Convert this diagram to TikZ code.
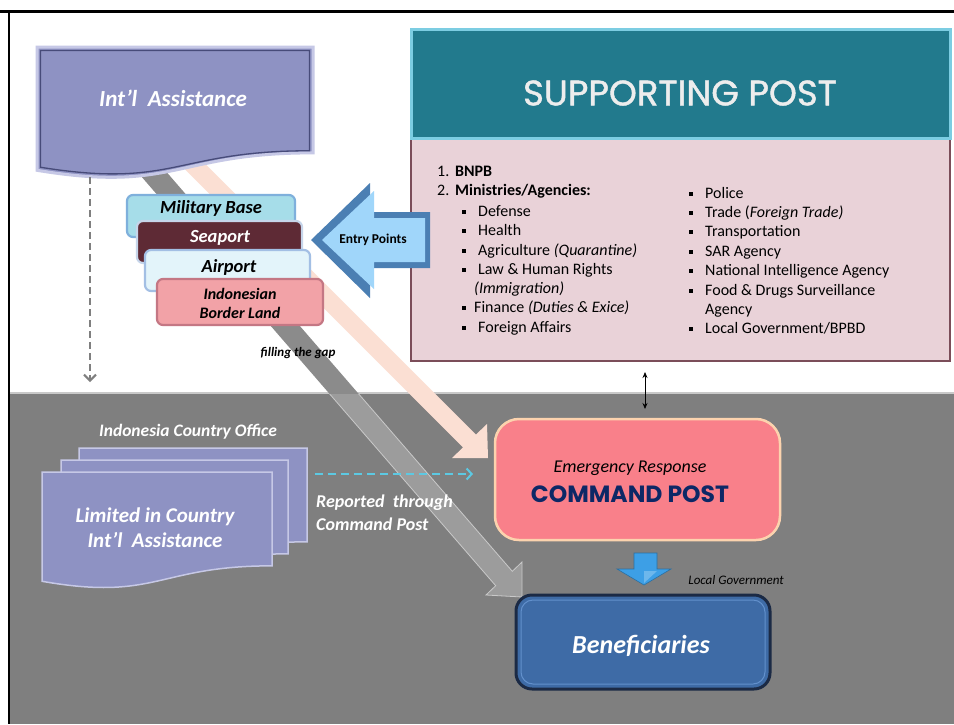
\documentclass[tikz,border=0pt]{standalone}
\usepackage{fontspec}
\setmainfont{Carlito}
\newfontfamily\gothic{Poppins}
\newfontfamily\gothicm[FakeBold=1.2]{Poppins}
\usetikzlibrary{calc,arrows.meta}
\definecolor{bggray}{HTML}{7F7F7F}
\definecolor{teal}{HTML}{227A8D}
\definecolor{tealb}{HTML}{7CCDE2}
\definecolor{pinkbox}{HTML}{E9D2D8}
\definecolor{pinkb}{HTML}{7B4D59}
\definecolor{lav}{HTML}{8E92C3}
\definecolor{lavlight}{HTML}{C6C8E6}
\definecolor{lavdark}{HTML}{474B79}
\definecolor{cmd}{HTML}{F9808A}
\definecolor{cmdb}{HTML}{FCD3AE}
\definecolor{ben}{HTML}{3E6BA6}
\definecolor{benb}{HTML}{1B2A45}
\definecolor{benhl}{HTML}{6290CC}
\definecolor{bluearr}{HTML}{3D9FE6}
\definecolor{cyandash}{HTML}{5CC9E3}
\definecolor{peach}{HTML}{FBDFD3}
\definecolor{milf}{HTML}{A6DDE9}
\definecolor{milb}{HTML}{7FB0DC}
\definecolor{seaf}{HTML}{5E2A35}
\definecolor{seab}{HTML}{C6D5EA}
\definecolor{airf}{HTML}{E3F4FA}
\definecolor{airb}{HTML}{A3BFE4}
\definecolor{borf}{HTML}{F2A2A7}
\definecolor{borb}{HTML}{C47784}
\definecolor{entryf}{HTML}{A0D6FA}
\definecolor{entryd}{HTML}{4B7FB3}
\definecolor{navy}{HTML}{0D2866}
\definecolor{bandw}{HTML}{8B8B8B}
\definecolor{bandg}{HTML}{9C9C9C}
\definecolor{bandgl}{HTML}{C9C9C9}
\newcommand{\bsq}{\raisebox{2.3pt}{\rule{3.6pt}{3.6pt}}}
\tikzset{
  docpath/.style n args={4}{insert path={(#1,#2) -- ({#1+#3},#2) -- ({#1+#3},{#2+0.802*#4}) .. controls ({#1+0.5*#3},{#2+0.802*#4}) and ({#1+0.5*#3},{#2+1.107*#4}) .. (#1,{#2+0.934*#4}) -- cycle}},
  lst/.style={anchor=base west, inner sep=0pt, font=\fontsize{16}{19}\selectfont, text=black},
  entrytxt/.style={inner sep=0pt, font=\fontsize{18.5}{21}\selectfont\bfseries\itshape},
  entrybox/.style={rounded corners=6pt, line width=2.2pt},
  whitetxt/.style={inner sep=0pt, text=white, font=\bfseries\itshape},
}
\begin{document}
\begin{tikzpicture}[x=1pt,y=-1pt]
\useasboundingbox (0,0) rectangle (954,724);
% background
\fill[white] (0,0) rectangle (954,724);
\fill[bggray] (9,393) rectangle (954,724);
\draw[bandgl, line width=2pt] (9,393) -- (954,393);
\draw[black, line width=3pt] (0,11) -- (954,11);
\draw[black, line width=2.5pt] (9,11) -- (9,724);

% gray band (filling the gap) from Int'l Assistance to Beneficiaries
\coordinate (gA1) at (139.5,140.8);
\coordinate (gA2) at (512.3,571.3);
\coordinate (gP1) at (522,562);
\coordinate (gP3) at (522,597);
\coordinate (gP2) at (486,595);
\coordinate (gA3) at (495.7,585.7);
\coordinate (gA4) at (122.9,155.2);
\begin{scope}
\clip (0,0) rectangle (954,393);
\fill[bandw] (gA1) -- (gA2) -- (gP1) -- (gP3) -- (gP2) -- (gA3) -- (gA4) -- cycle;
\end{scope}
\begin{scope}
\clip (0,394) rectangle (954,724);
\filldraw[fill=bandg, draw=bandgl, line width=0.8pt] (gA1) -- (gA2) -- (gP1) -- (gP3) -- (gP2) -- (gA3) -- (gA4) -- cycle;
\end{scope}
% peach band from Int'l Assistance to Command Post
\coordinate (pA1) at (182.9,141.6);
\coordinate (pA2) at (475.9,434.6);
\coordinate (pP1) at (487,424);
\coordinate (pP3) at (488,458);
\coordinate (pP2) at (452,458);
\coordinate (pA3) at (463.1,447.4);
\coordinate (pA4) at (170.1,154.4);
\fill[peach] (pA1) -- (pA2) -- (pP1) -- (pP3) -- (pP2) -- (pA3) -- (pA4) -- cycle;

% Int'l Assistance document
\path[fill=lav, draw=lavlight, line width=3pt, docpath={37}{47}{276}{132}];
\path[draw=lavdark, line width=1.3pt, docpath={40.5}{50.5}{269}{125}];
\node[whitetxt, font=\fontsize{23}{27}\selectfont\bfseries\itshape] (ia) at (173,98) {Int’l\ \ Assistance};

% dashed gray arrow down
\coordinate (ds) at (90,177);
\coordinate (de) at (90,382);
\draw[bggray, line width=2.5pt, dash pattern=on 7pt off 4pt, -{Straight Barb[length=6pt,width=12pt,line width=2pt]}] (ds) -- (de);

% entry point boxes
\draw[entrybox, fill=milf, draw=milb] (127,195) rectangle (295,237);
\node[entrytxt, text=black] (mil) at (211,208) {Military Base};
\draw[entrybox, fill=seaf, draw=seab] (137,221) rectangle (302,263);
\node[entrytxt, text=white] (sea) at (220,238) {Seaport};
\draw[entrybox, fill=airf, draw=airb] (145,250) rectangle (310,291);
\node[entrytxt, text=black] (air) at (229,267) {Airport};
\draw[entrybox, fill=borf, draw=borb] (157,279) rectangle (323,325);
\node[entrytxt, font=\fontsize{16}{19}\selectfont\bfseries\itshape, align=center] (bor) at (240,303) {Indonesian\\Border Land};

\node[inner sep=0pt, font=\fontsize{13}{15}\selectfont\bfseries\itshape] (gap) at (298,353) {filling the gap};

% Supporting post
\node[draw=pinkb, fill=pinkbox, line width=1.2pt, minimum width=539pt, minimum height=223pt, inner sep=0pt] (spb) at (680.5,249.5) {};
\node[draw=tealb, fill=teal, line width=3pt, minimum width=539pt, minimum height=109pt, inner sep=0pt] (sp) at (680.5,83.5) {};
\node[inner sep=0pt, text=white!93!black, font=\fontsize{35.5}{40}\selectfont\gothicm] (spt) at (680,93) {SUPPORTING POST};

% list
\node[lst] (l1) at (437,176) {\makebox[18pt][l]{1.}\textbf{BNPB}};
\node[lst] (l2) at (437,195) {\makebox[18pt][l]{2.}\textbf{Ministries/Agencies:}};
\node[lst] (l3) at (462,216) {\makebox[16pt][l]{\bsq}Defense};
\node[lst] (l4) at (462,235) {\makebox[16pt][l]{\bsq}Health};
\node[lst] (l5) at (462,255) {\makebox[16pt][l]{\bsq}Agriculture \textit{(Quarantine)}};
\node[lst] (l6) at (462,274) {\makebox[16pt][l]{\bsq}Law \& Human Rights};
\node[lst] (l7) at (474,293) {\textit{(Immigration)}};
\node[lst] (l8) at (462,312) {\makebox[12pt][l]{\bsq}Finance \textit{(Duties \& Exice)}};
\node[lst] (l9) at (462,332) {\makebox[16pt][l]{\bsq}Foreign Affairs};
\node[lst] (r1) at (689,198) {\makebox[16pt][l]{\bsq}Police};
\node[lst] (r2) at (689,217) {\makebox[16pt][l]{\bsq}Trade (\textit{Foreign Trade)}};
\node[lst] (r3) at (689,236) {\makebox[16pt][l]{\bsq}Transportation};
\node[lst] (r4) at (689,256) {\makebox[16pt][l]{\bsq}SAR Agency};
\node[lst] (r5) at (689,275) {\makebox[16pt][l]{\bsq}National Intelligence Agency};
\node[lst] (r6) at (689,295) {\makebox[16pt][l]{\bsq}Food \& Drugs Surveillance};
\node[lst] (r7) at (705,314) {Agency};
\node[lst] (r8) at (689,333) {\makebox[16pt][l]{\bsq}Local Government/BPBD};

% Entry Points arrow
\fill[entryd] (311,240) -- (370,183) -- (370,212) -- (430,212) -- (430,268) -- (370,268) -- (370,298) -- cycle;
\fill[entryf] (322,240) -- (374,191) -- (374,218) -- (425,218) -- (425,262) -- (374,262) -- (374,289) -- cycle;
\node[inner sep=0pt, font=\fontsize{13.5}{16}\selectfont\bfseries] (ep) at (373,240) {Entry Points};

% Command post
\node[draw=cmdb, fill=cmd, line width=2.5pt, rounded corners=24pt, minimum width=285pt, minimum height=121pt, inner sep=0pt] (cp) at (637.5,479.5) {};
\node[inner sep=0pt, font=\fontsize{18}{21}\selectfont\itshape] (er) at (630,468) {Emergency Response};
\node[inner sep=0pt, text=navy, font=\fontsize{23.5}{28}\selectfont\gothic\bfseries] (cpt) at (630,494) {COMMAND POST};

% double arrow Supporting post <-> Command post
\coordinate (d1) at (645,372);
\coordinate (d2) at (645,409);
\draw[line width=0.8pt, {Stealth[length=6pt,width=5pt]}-{Stealth[length=6pt,width=5pt]}] (d1) -- (d2);

% Beneficiaries
\node[draw=benb, fill=ben, line width=3pt, rounded corners=16pt, minimum width=254pt, minimum height=94pt, inner sep=0pt] (ben) at (643,642) {};
\draw[benhl, line width=1pt, rounded corners=12pt] (521,600) rectangle (765,684);
\node[whitetxt, font=\fontsize{26}{30}\selectfont\bfseries\itshape] (bent) at (641,646) {Beneficiaries};

% blue down arrow (Local Government)
\fill[bluearr, draw=bluearr!70!black, line width=0.6pt] (634,553) -- (657,553) -- (657,569) -- (671,569) -- (644,585) -- (617,569) -- (634,569) -- cycle;
\fill[white, opacity=0.25] (644,571) -- (657,571) -- (644,583) -- cycle;
\node[inner sep=0pt, font=\fontsize{13}{15}\selectfont\itshape] (lg) at (736,580) {Local Government};

% Indonesia country office stack
\node[whitetxt, font=\fontsize{17.5}{21}\selectfont\bfseries\itshape] (ico) at (188,432) {Indonesia Country Office};
\path[fill=lav, draw=lavlight, line width=1.5pt, docpath={79}{448}{228}{117}];
\path[fill=lav, draw=lavlight, line width=1.5pt, docpath={61}{460}{227}{117}];
\path[fill=lav, draw=lavlight, line width=1.5pt, docpath={42}{472}{230}{117}];
\node[whitetxt, align=center, font=\fontsize{21}{25}\selectfont\bfseries\itshape] (lim) at (155,528) {Limited in Country\\Int’l\ \ Assistance};

% dashed cyan arrow
\coordinate (c1) at (315,474);
\coordinate (c2) at (473,474);
\draw[cyandash, line width=2.5pt, dash pattern=on 8pt off 5pt, -{Straight Barb[length=5pt,width=11pt,line width=2pt]}] (c1) -- (c2);
\node[whitetxt, align=left, anchor=west, font=\fontsize{18}{23}\selectfont\bfseries\itshape] (rep) at (316,513) {Reported\ \ through\\Command Post};
\end{tikzpicture}
\end{document}
